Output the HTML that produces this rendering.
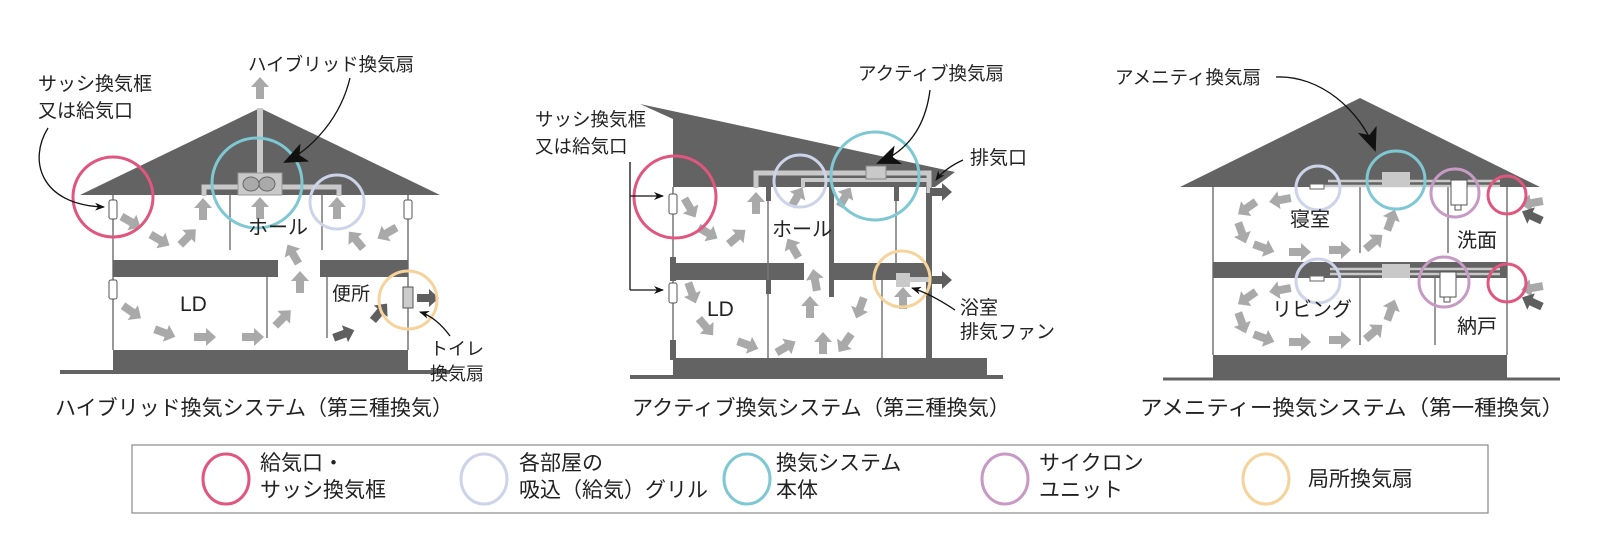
<!DOCTYPE html>
<html><head><meta charset="utf-8"><style>
html,body{margin:0;padding:0;background:#fff;}
svg{display:block;}
text{font-family:"Liberation Sans","Noto Sans CJK JP",sans-serif;fill:#222;}
</style></head><body>
<svg width="1600" height="552" viewBox="0 0 1600 552" xmlns="http://www.w3.org/2000/svg">
<defs>
<polygon id="a" points="-11,-4 1,-4 1,-9 11,0 1,9 1,4 -11,4" fill="#a9a9a9"/>
<polygon id="d" points="-11,-4 1,-4 1,-9 11,0 1,9 1,4 -11,4" fill="#5f5f5f"/>
<marker id="ah" markerWidth="10" markerHeight="10" refX="9" refY="5" orient="auto" markerUnits="userSpaceOnUse"><path d="M0,1 L10,5 L0,9 L3,5 Z" fill="#111"/></marker>
<marker id="ahb" markerWidth="24" markerHeight="20" refX="22" refY="10" orient="auto" markerUnits="userSpaceOnUse"><path d="M0,0 L24,10 L0,20 L6,10 Z" fill="#111"/></marker>
</defs>

<!-- ================= HOUSE 1 ================= -->
<line x1="60" y1="372" x2="450" y2="372" stroke="#636363" stroke-width="4"/>
<polygon points="260,108 80,195 440,195" fill="#636363"/>
<line x1="113" y1="195" x2="113" y2="350" stroke="#777" stroke-width="1.5"/>
<line x1="408" y1="195" x2="408" y2="350" stroke="#777" stroke-width="1.5"/>
<rect x="113" y="260" width="165" height="17" fill="#636363"/>
<rect x="320" y="260" width="88" height="17" fill="#636363"/>
<rect x="113" y="350" width="295" height="22" fill="#636363"/>
<line x1="230" y1="195" x2="230" y2="250" stroke="#777" stroke-width="1.5"/>
<line x1="322" y1="195" x2="322" y2="250" stroke="#777" stroke-width="1.5"/>
<line x1="267" y1="277" x2="267" y2="338" stroke="#777" stroke-width="1.5"/>
<line x1="327" y1="277" x2="327" y2="338" stroke="#777" stroke-width="1.5"/>
<!-- duct -->
<rect x="257" y="108" width="6" height="68" fill="#c9c9c9"/>
<path d="M204,196 V187 H339 V196" fill="none" stroke="#c9c9c9" stroke-width="5"/>
<rect x="238" y="173" width="44" height="22" fill="#c9c9c9" stroke="#999"/>
<ellipse cx="251" cy="184" rx="8" ry="7" fill="#aaa" stroke="#666"/>
<ellipse cx="267" cy="184" rx="8" ry="7" fill="#aaa" stroke="#666"/>
<use href="#a" transform="translate(260,88) rotate(-90)"/>
<!-- vents -->
<rect x="109" y="200" width="8" height="19" rx="2" fill="#fff" stroke="#555"/>
<rect x="109" y="280" width="8" height="19" rx="2" fill="#fff" stroke="#555"/>
<rect x="404" y="200" width="8" height="19" rx="2" fill="#fff" stroke="#555"/>
<rect x="403" y="287" width="10" height="21" fill="#ccc" stroke="#555"/>
<!-- arrows -->
<use href="#a" transform="translate(131,222) rotate(30)"/>
<use href="#a" transform="translate(160,240) rotate(30)"/>
<use href="#a" transform="translate(188,237) rotate(-45)"/>
<use href="#a" transform="translate(203,209) rotate(-90)"/>
<use href="#a" transform="translate(260,208) rotate(-90)"/>
<use href="#a" transform="translate(337,208) rotate(-90)"/>
<use href="#a" transform="translate(356,240) rotate(-130)"/>
<use href="#a" transform="translate(387,233) rotate(150)"/>
<use href="#a" transform="translate(293,254) rotate(-120)"/>
<use href="#a" transform="translate(300,282) rotate(-90)"/>
<use href="#a" transform="translate(132,312) rotate(35)"/>
<use href="#a" transform="translate(165,333) rotate(20)"/>
<use href="#a" transform="translate(205,337)"/>
<use href="#a" transform="translate(253,337)"/>
<use href="#a" transform="translate(283,318) rotate(-45)"/>
<use href="#d" transform="translate(344,334) rotate(-20)"/>
<use href="#d" transform="translate(380,312) rotate(-50)"/>
<use href="#d" transform="translate(428,298)"/>
<!-- circles -->
<circle cx="113" cy="197" r="40" fill="none" stroke="#e0567f" stroke-width="3"/>
<circle cx="257" cy="183" r="45" fill="none" stroke="#7ec8d3" stroke-width="3"/>
<circle cx="337" cy="202" r="27" fill="none" stroke="#cdd4ea" stroke-width="3"/>
<circle cx="408" cy="300" r="29" fill="none" stroke="#f5d39b" stroke-width="3"/>
<!-- labels -->
<text x="38" y="90" font-size="19">サッシ換気框</text>
<text x="38" y="117" font-size="19">又は給気口</text>
<path d="M48,128 C28,160 40,205 104,207" fill="none" stroke="#111" stroke-width="1.3" marker-end="url(#ah)"/>
<text x="248" y="71" font-size="18.5">ハイブリッド換気扇</text>
<path d="M350,78 C340,120 310,150 285,162" fill="none" stroke="#111" stroke-width="1.3" marker-end="url(#ahb)"/>
<text x="248" y="234" font-size="20">ホール</text>
<text x="180" y="311" font-size="21">LD</text>
<text x="332" y="300" font-size="19">便所</text>
<text x="430" y="355" font-size="18">トイレ</text>
<text x="430" y="380" font-size="18">換気扇</text>
<path d="M450,336 C442,325 432,316 420,312" fill="none" stroke="#111" stroke-width="1.3" marker-end="url(#ah)"/>
<text x="55" y="415" font-size="21" textLength="398" lengthAdjust="spacingAndGlyphs">ハイブリッド換気システム（第三種換気）</text>

<!-- ================= HOUSE 2 ================= -->
<line x1="630" y1="377" x2="1003" y2="377" stroke="#636363" stroke-width="4"/>
<polygon points="640,104 955,172 935,187 673,187 673,119" fill="#636363"/>
<line x1="673" y1="187" x2="673" y2="360" stroke="#777" stroke-width="1.5"/>
<rect x="670" y="257" width="6" height="24" fill="#636363"/>
<rect x="670" y="340" width="6" height="20" fill="#636363"/>
<rect x="673" y="263" width="131" height="17" fill="#636363"/>
<rect x="832" y="263" width="98" height="17" fill="#636363"/>
<rect x="926" y="187" width="6" height="173" fill="#636363"/>
<rect x="829" y="187" width="5" height="110" fill="#636363"/>
<rect x="673" y="358" width="314" height="17" fill="#636363"/>
<line x1="768" y1="187" x2="768" y2="358" stroke="#777" stroke-width="1.5"/>
<rect x="766" y="187" width="5" height="14" fill="#636363"/>
<rect x="766" y="280" width="5" height="14" fill="#636363"/>
<line x1="896" y1="187" x2="896" y2="263" stroke="#777" stroke-width="1.5"/>
<rect x="894" y="187" width="5" height="14" fill="#636363"/>
<line x1="882" y1="280" x2="882" y2="358" stroke="#777" stroke-width="1.5"/>
<!-- ducts -->
<path d="M756,188 V173 H929 V193" fill="none" stroke="#c9c9c9" stroke-width="5"/>
<path d="M803,188 V180 H929" fill="none" stroke="#c9c9c9" stroke-width="4"/>
<rect x="866" y="166" width="20" height="13" fill="#c9c9c9" stroke="#888"/>
<rect x="896" y="273" width="14" height="14" fill="#c9c9c9"/>
<rect x="910" y="277" width="20" height="5" fill="#c9c9c9"/>
<use href="#d" transform="translate(941,192)"/>
<use href="#d" transform="translate(941,280)"/>
<rect x="669" y="194" width="8" height="20" rx="2" fill="#fff" stroke="#555"/>
<rect x="669" y="283" width="8" height="20" rx="2" fill="#fff" stroke="#555"/>
<!-- arrows -->
<use href="#a" transform="translate(690,208) rotate(60)"/>
<use href="#a" transform="translate(708,233) rotate(30)"/>
<use href="#a" transform="translate(737,237) rotate(-40)"/>
<use href="#a" transform="translate(756,203) rotate(-90)"/>
<use href="#a" transform="translate(797,197) rotate(-60)"/>
<use href="#a" transform="translate(845,197) rotate(-60)"/>
<use href="#a" transform="translate(793,248) rotate(-120)"/>
<use href="#a" transform="translate(692,293) rotate(70)"/>
<use href="#a" transform="translate(706,327) rotate(50)"/>
<use href="#a" transform="translate(748,345) rotate(20)"/>
<use href="#a" transform="translate(786,347) rotate(-30)"/>
<use href="#a" transform="translate(810,307) rotate(-90)"/>
<use href="#a" transform="translate(815,280) rotate(-100)"/>
<use href="#a" transform="translate(823,343) rotate(-90)"/>
<use href="#a" transform="translate(860,308) rotate(110)"/>
<use href="#a" transform="translate(845,343) rotate(125)"/>
<use href="#a" transform="translate(903,298) rotate(-90)"/>
<!-- circles -->
<circle cx="675" cy="197" r="41" fill="none" stroke="#e0567f" stroke-width="3"/>
<circle cx="800" cy="181" r="26" fill="none" stroke="#cdd4ea" stroke-width="3"/>
<circle cx="875" cy="176" r="44" fill="none" stroke="#7ec8d3" stroke-width="3"/>
<circle cx="902" cy="279" r="28" fill="none" stroke="#f5d39b" stroke-width="3"/>
<!-- labels -->
<text x="535" y="126" font-size="18.5">サッシ換気框</text>
<text x="535" y="153" font-size="18.5">又は給気口</text>
<path d="M630,162 V290" fill="none" stroke="#111" stroke-width="1.3"/>
<path d="M630,196 H663" fill="none" stroke="#111" stroke-width="1.3" marker-end="url(#ah)"/>
<path d="M630,290 H663" fill="none" stroke="#111" stroke-width="1.3" marker-end="url(#ah)"/>
<text x="858" y="80" font-size="18.5">アクティブ換気扇</text>
<path d="M930,90 C925,130 905,152 878,163" fill="none" stroke="#111" stroke-width="1.3" marker-end="url(#ahb)"/>
<text x="970" y="164" font-size="19">排気口</text>
<path d="M963,160 C950,166 942,172 936,180" fill="none" stroke="#111" stroke-width="1.3" marker-end="url(#ah)"/>
<text x="960" y="314" font-size="19">浴室</text>
<text x="960" y="338" font-size="19">排気ファン</text>
<path d="M955,310 C940,300 925,292 912,288" fill="none" stroke="#111" stroke-width="1.3" marker-end="url(#ah)"/>
<text x="772" y="236" font-size="20">ホール</text>
<text x="707" y="316" font-size="21">LD</text>
<text x="632" y="415" font-size="21" textLength="378" lengthAdjust="spacingAndGlyphs">アクティブ換気システム（第三種換気）</text>

<!-- ================= HOUSE 3 ================= -->
<line x1="1163" y1="379" x2="1560" y2="379" stroke="#636363" stroke-width="3"/>
<polygon points="1360,98 1180,187 1540,187" fill="#636363"/>
<line x1="1213" y1="187" x2="1213" y2="355" stroke="#777" stroke-width="1.5"/>
<line x1="1507" y1="187" x2="1507" y2="355" stroke="#777" stroke-width="1.5"/>
<rect x="1213" y="262" width="294" height="16" fill="#636363"/>
<rect x="1213" y="355" width="294" height="24" fill="#636363"/>
<line x1="1360" y1="187" x2="1360" y2="253" stroke="#777" stroke-width="1.5"/>
<line x1="1360" y1="278" x2="1360" y2="345" stroke="#777" stroke-width="1.5"/>
<line x1="1448" y1="187" x2="1448" y2="253" stroke="#777" stroke-width="1.5"/>
<line x1="1435" y1="278" x2="1435" y2="345" stroke="#777" stroke-width="1.5"/>
<!-- ducts -->
<path d="M1320,186 H1500 M1328,181 H1500" stroke="#c9c9c9" stroke-width="2.5"/>
<rect x="1382" y="172" width="28" height="14" fill="#c9c9c9"/>
<rect x="1310" y="184" width="14" height="5" fill="#fff" stroke="#666"/>
<path d="M1330,274 H1500 M1330,269 H1500" stroke="#c9c9c9" stroke-width="2.5"/>
<rect x="1382" y="264" width="28" height="14" fill="#c9c9c9"/>
<rect x="1310" y="276" width="14" height="5" fill="#fff" stroke="#666"/>
<rect x="1451" y="180" width="16" height="25" fill="#fff" stroke="#555"/>
<rect x="1455" y="205" width="6" height="5" fill="#fff" stroke="#555"/>
<rect x="1440" y="272" width="16" height="25" fill="#fff" stroke="#555"/>
<rect x="1444" y="297" width="6" height="5" fill="#fff" stroke="#555"/>
<!-- arrows -->
<use href="#a" transform="translate(1280,200) rotate(170)"/>
<use href="#a" transform="translate(1247,208) rotate(145)"/>
<use href="#a" transform="translate(1242,233) rotate(70)"/>
<use href="#a" transform="translate(1264,248) rotate(20)"/>
<use href="#a" transform="translate(1300,252)"/>
<use href="#a" transform="translate(1340,250)"/>
<use href="#a" transform="translate(1374,242) rotate(-40)"/>
<use href="#a" transform="translate(1391,220) rotate(-70)"/>
<use href="#a" transform="translate(1280,290) rotate(170)"/>
<use href="#a" transform="translate(1247,298) rotate(145)"/>
<use href="#a" transform="translate(1242,323) rotate(70)"/>
<use href="#a" transform="translate(1264,338) rotate(20)"/>
<use href="#a" transform="translate(1300,342)"/>
<use href="#a" transform="translate(1340,340)"/>
<use href="#a" transform="translate(1374,332) rotate(-40)"/>
<use href="#a" transform="translate(1391,310) rotate(-70)"/>
<use href="#a" transform="translate(1532,203) rotate(170)"/>
<use href="#d" transform="translate(1532,216) rotate(205)"/>
<use href="#a" transform="translate(1532,288) rotate(170)"/>
<use href="#d" transform="translate(1532,302) rotate(205)"/>
<!-- circles -->
<circle cx="1318" cy="188" r="22" fill="none" stroke="#cdd4ea" stroke-width="3"/>
<circle cx="1396" cy="180" r="29" fill="none" stroke="#7ec8d3" stroke-width="3"/>
<circle cx="1455" cy="193" r="24" fill="none" stroke="#c69ac4" stroke-width="3"/>
<circle cx="1507" cy="195" r="19" fill="none" stroke="#e0567f" stroke-width="3"/>
<circle cx="1318" cy="281" r="22" fill="none" stroke="#cdd4ea" stroke-width="3"/>
<circle cx="1444" cy="282" r="25" fill="none" stroke="#c69ac4" stroke-width="3"/>
<circle cx="1507" cy="283" r="19" fill="none" stroke="#e0567f" stroke-width="3"/>
<!-- labels -->
<text x="1115" y="84" font-size="18.5">アメニティ換気扇</text>
<path d="M1276,77 C1320,75 1360,110 1375,150" fill="none" stroke="#111" stroke-width="1.3" marker-end="url(#ahb)"/>
<text x="1290" y="226" font-size="20">寝室</text>
<text x="1457" y="247" font-size="20">洗面</text>
<text x="1272" y="316" font-size="20">リビング</text>
<text x="1457" y="333" font-size="20">納戸</text>
<text x="1140" y="415" font-size="21" textLength="424" lengthAdjust="spacingAndGlyphs">アメニティー換気システム（第一種換気）</text>

<!-- ================= LEGEND ================= -->
<rect x="132" y="445" width="1356" height="68" fill="#fff" stroke="#888" stroke-width="1.2"/>
<ellipse cx="226" cy="479" rx="23" ry="25" fill="none" stroke="#e0567f" stroke-width="3"/>
<text x="260" y="470" font-size="21">給気口・</text>
<text x="260" y="497" font-size="21">サッシ換気框</text>
<ellipse cx="484" cy="479" rx="23" ry="25" fill="none" stroke="#cdd4ea" stroke-width="3"/>
<text x="519" y="470" font-size="21">各部屋の</text>
<text x="519" y="497" font-size="21">吸込（給気）グリル</text>
<ellipse cx="747" cy="479" rx="23" ry="25" fill="none" stroke="#7ec8d3" stroke-width="3"/>
<text x="776" y="470" font-size="21">換気システム</text>
<text x="776" y="497" font-size="21">本体</text>
<ellipse cx="1005" cy="479" rx="23" ry="25" fill="none" stroke="#c69ac4" stroke-width="3"/>
<text x="1039" y="470" font-size="21">サイクロン</text>
<text x="1039" y="497" font-size="21">ユニット</text>
<ellipse cx="1266" cy="479" rx="23" ry="25" fill="none" stroke="#f5d39b" stroke-width="3"/>
<text x="1308" y="486" font-size="21">局所換気扇</text>
</svg>
</body></html>
